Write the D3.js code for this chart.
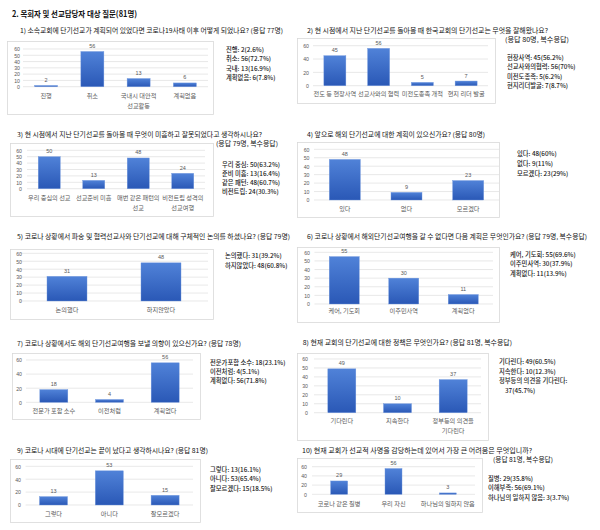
<!DOCTYPE html>
<html><head><meta charset="utf-8">
<script src="https://cdn.jsdelivr.net/npm/d3@7"></script>
<style>
html,body{margin:0;padding:0;background:#fff;}
svg{display:block;font-family:"Noto Sans CJK KR","Noto Sans",sans-serif;}
</style></head>
<body>
<svg id="c" width="600" height="530"></svg>
<script>
// ---------- DATA ----------
const mainTitle = "2. 목회자 및 선교담당자 대상 질문(81명)";

const q1Cats = ["진행", "취소", "국내시 대안적\n선교활동", "계획없음"];
const q1Vals = [2, 56, 13, 6];
const q1Notes = ["진행: 2(2.6%)", "취소: 56(72.7%)", "국내: 13(16.9%)", "계획없음: 6(7.8%)"];
const q1Title = ["1) 소속교회에 단기선교가 계획되어 있었다면 코로나19사태 이후 어떻게 되었나요? (응답 77명)"];

const q2Cats = ["전도 등 현장사역", "선교사와의 협력", "미전도종족 개척", "현지 리더 발굴"];
const q2Vals = [45, 56, 5, 7];
const q2Notes = ["현장사역: 45(56.2%)", "선교사와의협력: 56(70%)", "미전도종족: 5(6.2%)", "현지리더발굴: 7(8.7%)"];
const q2Title = ["2) 현 시점에서 지난 단기선교를 돌아볼 때 한국교회의 단기선교는 무엇을 잘해왔나요?", "(응답 80명, 복수응답)"];

const q3Cats = ["우리 중심의 선교", "선교준비 미흡", "매번 같은 패턴의\n선교", "비전트립 성격의\n선교여행"];
const q3Vals = [50, 13, 48, 24];
const q3Notes = ["우리 중심: 50(63.2%)", "준비 미흡: 13(16.4%)", "같은 패턴: 48(60.7%)", "비전트립: 24(30.3%)"];
const q3Title = ["3) 현 시점에서 지난 단기선교를 돌아볼 때 무엇이 미흡하고 잘못되었다고 생각하시나요?", "(응답 79명, 복수응답)"];

const q4Cats = ["있다", "없다", "모르겠다"];
const q4Vals = [48, 9, 23];
const q4Notes = ["있다: 48(60%)", "없다: 9(11%)", "모르겠다: 23(29%)"];
const q4Title = ["4) 앞으로 해외 단기선교에 대한 계획이 있으신가요? (응답 80명)"];

const q5Cats = ["논의했다", "하지않았다"];
const q5Vals = [31, 48];
const q5Notes = ["논의했다: 31(39.2%)", "하지않았다: 48(60.8%)"];
const q5Title = ["5) 코로나 상황에서 파송 및 협력선교사와 단기선교에 대해 구체적인 논의를 하셨나요? (응답 79명)"];

const q6Cats = ["케어, 기도회", "이주민사역", "계획없다"];
const q6Vals = [55, 30, 11];
const q6Notes = ["케어, 기도회: 55(69.6%)", "이주민사역: 30(37.9%)", "계획없다: 11(13.9%)"];
const q6Title = ["6) 코로나 상황에서 해외단기선교여행을 갈 수 없다면 다음 계획은 무엇인가요? (응답 79명, 복수응답)"];

const q7Cats = ["전문가 포함 소수", "이전처럼", "계획없다"];
const q7Vals = [18, 4, 56];
const q7Notes = ["전문가포함 소수: 18(23.1%)", "이전처럼: 4(5.1%)", "계획없다: 56(71.8%)"];
const q7Title = ["7) 코로나 상황에서도 해외 단기선교여행을 보낼 의향이 있으신가요? (응답 78명)"];

const q8Cats = ["기다린다", "지속한다", "정부등의 의견을\n기다린다"];
const q8Vals = [49, 10, 37];
const q8Notes = ["기다린다: 49(60.5%)", "지속한다: 10(12.3%)", "정부등의 의견을  기다린다:", "37(45.7%)"];
const q8Title = ["8) 현재 교회의 단기선교에 대한 정책은 무엇인가요? (응답 81명, 복수응답)"];

const q9Cats = ["그렇다", "아니다", "잘모르겠다"];
const q9Vals = [13, 53, 15];
const q9Notes = ["그렇다: 13(16.1%)", "아니다: 53(65.4%)", "잘모르겠다: 15(18.5%)"];
const q9Title = ["9) 코로나 시대에 단기선교는 끝이 났다고 생각하시나요? (응답 81명)"];

const q10Cats = ["코로나 같은 질병", "우리 자신", "하나님의 일하지 않음"];
const q10Vals = [29, 56, 3];
const q10Notes = ["질병: 29(35.8%)", "이해부족: 56(69.1%)", "하나님의 일하지 않음: 3(3.7%)"];
const q10Title = ["10) 현재 교회가 선교적 사명을 감당하는데 있어서 가장 큰 어려움은 무엇입니까?", "(응답 81명, 복수응답)"];

const yMax = 60;

// ---------- LAYOUT ----------
const panels = [
  {cats:q1Cats, vals:q1Vals, notes:q1Notes, title:q1Title,
   titlePos:[[20,31.5,283]], box:[7,41,213,114], y0:86.7, y60:49, step:10, band:[23,208], barW:23, labY:95.5, tickX:20,
   noteX:[226,226,226,226], noteY:[50,59.5,69,78.5]},
  {cats:q2Cats, vals:q2Vals, notes:q2Notes, title:q2Title,
   titlePos:[[307,31,548],[505,40.7,569]], box:[297,38,495,103], y0:85.7, y60:45.7, step:20, band:[313,488], barW:22, labY:94, tickX:309,
   noteX:[507,507,507,507], noteY:[58,67.7,77,86]},
  {cats:q3Cats, vals:q3Vals, notes:q3Notes, title:q3Title,
   titlePos:[[17,135.7,262],[216,144.7,278]], box:[10,143,213,216], y0:188.7, y60:150.3, step:10, band:[27,205], barW:22, labY:197.5, tickX:22,
   noteX:[222,222,222,222], noteY:[165,174,183,192]},
  {cats:q4Cats, vals:q4Vals, notes:q4Notes, title:q4Title,
   titlePos:[[307,135.7,485]], box:[297,142,499,217], y0:200, y60:149.3, step:10, band:[314,499], barW:31, labY:209, tickX:309.5,
   noteX:[517,517,517], noteY:[154,164,174]},
  {cats:q5Cats, vals:q5Vals, notes:q5Notes, title:q5Title,
   titlePos:[[17,237.3,290]], box:[10,249,213,319], y0:301, y60:253.3, step:10, band:[20,208], barW:40, labY:310, tickX:22,
   noteX:[225,225], noteY:[256.7,266]},
  {cats:q6Cats, vals:q6Vals, notes:q6Notes, title:q6Title,
   titlePos:[[307,237.3,587]], box:[297,247,499,322], y0:304, y60:252.3, step:10, band:[314.5,493], barW:30, labY:311, tickX:310,
   noteX:[510,510,510], noteY:[255,264.5,274]},
  {cats:q7Cats, vals:q7Vals, notes:q7Notes, title:q7Title,
   titlePos:[[17,344,241]], box:[12,353,200,419], y0:402.3, y60:360, step:20, band:[26,193], barW:28, labY:410.7, tickX:22,
   noteX:[210,210,210], noteY:[363,372,381]},
  {cats:q8Cats, vals:q8Vals, notes:q8Notes, title:q8Title,
   titlePos:[[302.7,343.3,512]], box:[297,353,488,440], y0:412.7, y60:359, step:10, band:[314,481], barW:28, labY:420.7, tickX:308,
   noteX:[499,499,499,505], noteY:[362.7,372,381.7,391]},
  {cats:q9Cats, vals:q9Vals, notes:q9Notes, title:q9Title,
   titlePos:[[17,451,208]], box:[10,459,200,522], y0:505, y60:466.3, step:20, band:[25.6,193], barW:28, labY:514, tickX:21,
   noteX:[210,210,210], noteY:[470,479.7,489]},
  {cats:q10Cats, vals:q10Vals, notes:q10Notes, title:q10Title,
   titlePos:[[302,451,532],[493,460,553]], box:[297,458,482,512], y0:494.3, y60:466.7, step:20, band:[312,475], barW:17, labY:504, tickX:307,
   noteX:[488,488,488], noteY:[479,488.7,498]}
];

const NUMFONT = "'Liberation Sans',Arial,sans-serif";
const svg = d3.select("#c");
const defs = svg.append("defs");
const grad = defs.append("linearGradient").attr("id","bg").attr("x1",0).attr("y1",0).attr("x2",0).attr("y2",1);
grad.append("stop").attr("offset","0%").attr("stop-color","#5082d8");
grad.append("stop").attr("offset","100%").attr("stop-color","#2a58b6");

svg.append("text").attr("x",12).attr("y",15).attr("dominant-baseline","middle")
  .attr("font-size",8.2).attr("font-weight","bold").attr("fill","#111")
  .attr("textLength",125).attr("lengthAdjust","spacingAndGlyphs").text(mainTitle);

panels.forEach(p => {
  const g = svg.append("g");
  const [bx0,by0,bx1,by1] = p.box;
  g.append("rect").attr("x",bx0+0.5).attr("y",by0+0.5).attr("width",bx1-bx0).attr("height",by1-by0)
    .attr("fill","#fff").attr("stroke","#d9d9d9").attr("stroke-width",0.8);

  const x = d3.scaleBand().domain(p.cats).range(p.band).padding(0);
  const y = d3.scaleLinear().domain([0,yMax]).range([p.y0,p.y60]);
  const ticks = d3.range(0, yMax+1, p.step);

  // gridlines
  g.selectAll("line.grid").data(ticks).join("line")
    .attr("x1",p.band[0]).attr("x2",p.band[1])
    .attr("y1",d=>y(d)).attr("y2",d=>y(d))
    .attr("stroke","#d9d9d9").attr("stroke-width",0.6);

  // y axis labels
  const ax = g.append("g").attr("transform",`translate(${p.tickX},0)`)
    .call(d3.axisLeft(y).tickValues(ticks).tickSize(0).tickPadding(0));
  ax.select(".domain").remove();
  ax.selectAll("text").attr("font-size",5.2).attr("fill","#595959")
    .attr("font-family",NUMFONT).attr("dy","0.35em");

  // bars
  g.selectAll("rect.bar").data(p.vals).join("rect")
    .attr("x",(d,i)=>x(p.cats[i])+x.bandwidth()/2-p.barW/2)
    .attr("width",p.barW)
    .attr("y",d=>y(d)).attr("height",d=>y(0)-y(d))
    .attr("fill","url(#bg)").attr("stroke","#6d95dd").attr("stroke-width",0.4);

  // value labels
  g.selectAll("text.val").data(p.vals).join("text")
    .attr("x",(d,i)=>x(p.cats[i])+x.bandwidth()/2)
    .attr("y",d=>y(d)-3.5).attr("text-anchor","middle")
    .attr("font-family",NUMFONT)
    .attr("font-size",5.5).attr("fill","#595959").text(d=>d);

  // category labels
  p.cats.forEach(c => {
    const t = g.append("text").attr("x",x(c)+x.bandwidth()/2).attr("y",p.labY)
      .attr("text-anchor","middle").attr("dominant-baseline","middle")
      .attr("font-size",6.2).attr("fill","#595959");
    c.split("\n").forEach((line,k)=>{
      t.append("tspan").attr("x",x(c)+x.bandwidth()/2).attr("dy",k===0?0:10).text(line);
    });
  });

  // titles
  p.title.forEach((tt,k)=>{
    const [tx,ty,tx1] = p.titlePos[k];
    g.append("text").attr("x",tx).attr("y",ty).attr("dominant-baseline","middle")
      .attr("font-size",6.4).attr("fill","#111")
      .attr("textLength",tx1-tx).attr("lengthAdjust","spacingAndGlyphs").text(tt);
  });

  // notes
  p.notes.forEach((n,k)=>{
    g.append("text").attr("x",p.noteX[k]).attr("y",p.noteY[k]).attr("dominant-baseline","middle")
      .attr("font-size",6.3).attr("fill","#1a1a1a").attr("font-weight",500).text(n);
  });
});
</script>
</body></html>
